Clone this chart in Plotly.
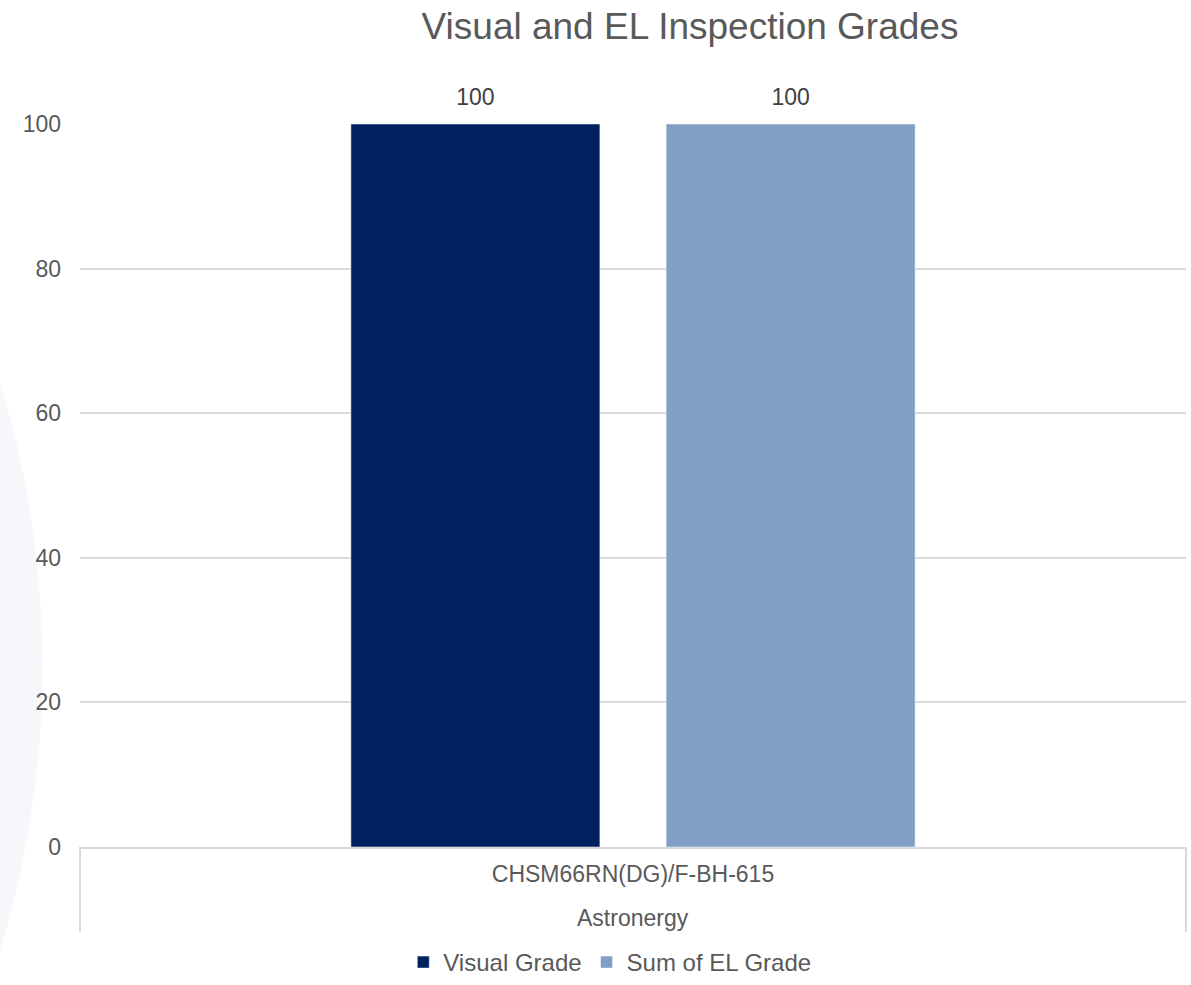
import plotly.graph_objects as go

manufacturers = ["Astronergy"]
models = ["CHSM66RN(DG)/F-BH-615"]
series_names = ["Visual Grade", "Sum of EL Grade"]
series_values = [[100], [100]]
series_colors = ["#002060", "#7F9FC4"]

TEXT = "#595959"
GRID = "#D9D9D9"
FONT = "Liberation Sans, Arial, sans-serif"

fig = go.Figure()
for name, values, color in zip(series_names, series_values, series_colors):
    fig.add_trace(
        go.Bar(
            x=models,
            y=values,
            name=name,
            marker_color=color,
            text=values,
            # small blank second line lifts the label a little off the bar
            texttemplate="<span style='font-size:23px'>%{text}</span><br> ",
            textposition="outside",
            textfont=dict(size=11, color="#404040", family=FONT),
            cliponaxis=False,
        )
    )

# outer category label (manufacturer) under the model label
for maker, model in zip(manufacturers, models):
    fig.add_annotation(
        x=model,
        xref="x",
        y=0,
        yref="paper",
        yanchor="middle",
        yshift=-71,
        text=maker,
        showarrow=False,
        font=dict(size=23, color=TEXT, family=FONT),
    )

# category box dividers at both ends of the axis
for xpos in (0, 1):
    fig.add_shape(
        type="line",
        xref="paper",
        yref="paper",
        x0=xpos,
        x1=xpos,
        y0=0,
        y1=-85 / 723,
        line=dict(color=GRID, width=2),
    )

# faint watermark arc at the left edge of the slide
fig.add_shape(
    type="circle",
    xref="paper",
    yref="paper",
    x0=-1.78,
    x1=-0.034,
    y0=-1.09,
    y1=1.59,
    fillcolor="#F6F7FA",
    line_width=0,
    layer="below",
)

fig.update_layout(
    width=1191,
    height=985,
    template="plotly_white",
    paper_bgcolor="white",
    plot_bgcolor="rgba(0,0,0,0)",
    font=dict(family=FONT, size=23, color=TEXT),
    title=dict(
        text="Visual and EL Inspection Grades",
        x=690 / 1191,
        xanchor="center",
        y=1 - 26 / 985,
        yanchor="middle",
        font=dict(size=37, color=TEXT, family=FONT),
    ),
    margin=dict(l=80, r=5, t=124, b=138),
    bargap=0.43,
    bargroupgap=0.21,
    legend=dict(
        orientation="h",
        x=0.479,
        xanchor="center",
        yref="container",
        y=-0.009,
        yanchor="bottom",
        font=dict(size=24, color=TEXT),
        itemwidth=30,
    ),
)
fig.update_yaxes(
    range=[0, 100],
    dtick=20,
    showgrid=True,
    gridcolor=GRID,
    gridwidth=2,
    zeroline=False,
    showline=False,
    ticks="",
    ticklabelstandoff=18,
    automargin=False,
    tickfont=dict(size=23, color=TEXT),
)
fig.update_xaxes(
    type="category",
    showline=True,
    linecolor=GRID,
    linewidth=2,
    showgrid=False,
    ticks="",
    ticklabelstandoff=5,
    automargin=False,
    tickfont=dict(size=23, color=TEXT),
)

# drop the default page margin so the figure fills the window exactly
fig.write_html(
    "out.html",
    config={"displayModeBar": False},
    post_script="document.body.style.margin = '0';",
)
